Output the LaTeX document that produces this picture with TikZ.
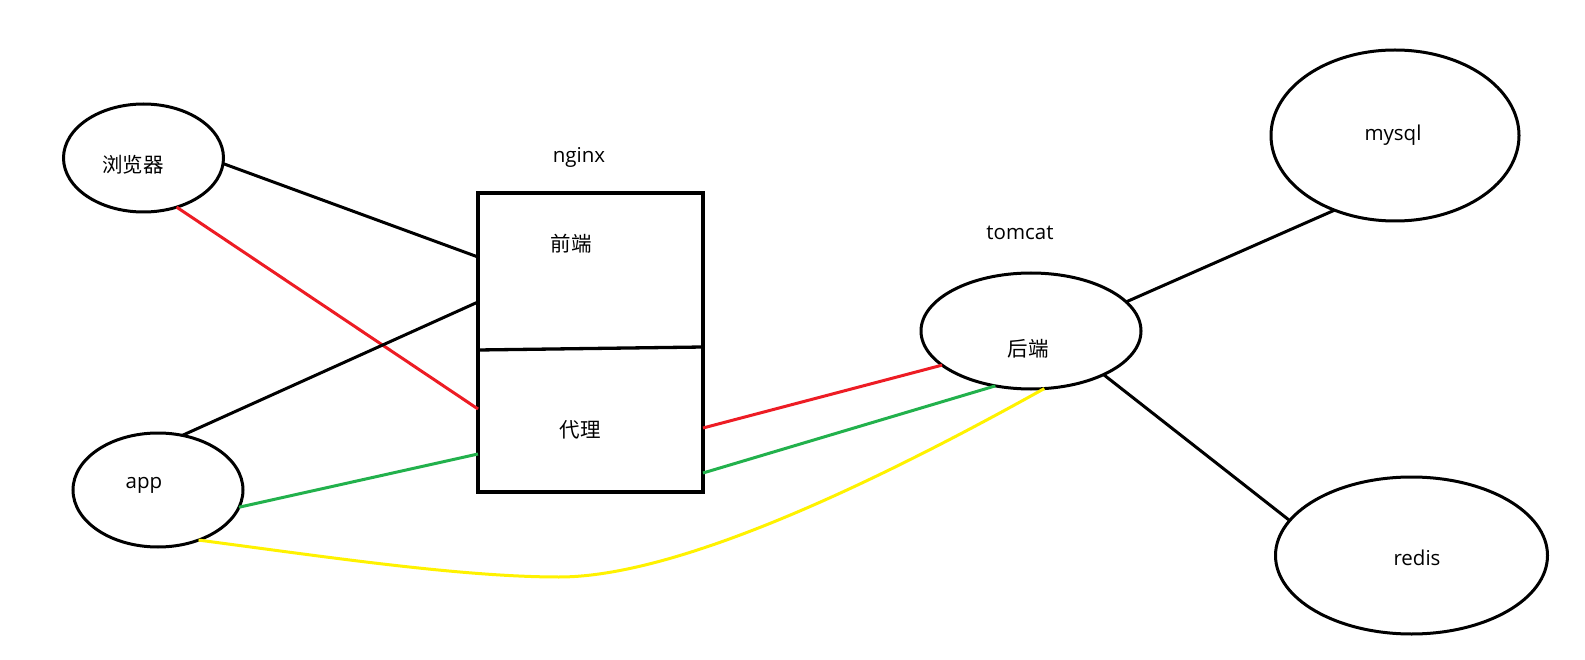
\documentclass[tikz,border=0pt]{standalone}
\usepackage{fontspec}
\setmainfont{Open Sans}
\newfontfamily\cjk{Noto Sans CJK SC}
\usepackage{tikz}
\usetikzlibrary{positioning,shapes.geometric,calc}
\definecolor{linkred}{RGB}{237,28,36}
\definecolor{linkgreen}{RGB}{34,177,76}
\definecolor{linkyellow}{RGB}{255,242,0}
\tikzset{
  blob/.style   = {ellipse, draw, line width=3pt, inner sep=0pt, outer sep=0pt},
  srvbox/.style = {rectangle, draw, line width=3.3pt, inner sep=0pt, outer sep=0pt, minimum width=225pt, minimum height=299pt},
  lbl/.style    = {inner sep=0pt, font=\fontsize{20.5}{24}\selectfont},
  wire/.style   = {line width=3pt},
}

\begin{document}
\begin{tikzpicture}[x=1pt,y=-1pt]
  \useasboundingbox (0,0) rectangle (1585,660);
  \node[blob, minimum width=160pt, minimum height=108pt] (browser) at (143.5,158) {};
  \node[blob, minimum width=170pt, minimum height=114pt] (app) at (158,490) {};
  \node[srvbox] (nginx) at (590.5,342.5) {};
  \node[blob, minimum width=220pt, minimum height=116pt] (tomcat) at (1031,331) {};
  \node[blob, minimum width=248pt, minimum height=171pt] (mysql) at (1395,135.5) {};
  \node[blob, minimum width=272pt, minimum height=157pt] (redis) at (1411.5,555.5) {};
  \node[lbl] (browsertxt) at (133,165) {\cjk 浏览器};
  \node[lbl] (apptxt) at (144,485) {app};
  \node[lbl] (nginxtxt) at (579,157) {nginx};
  \node[lbl] (fronttxt) at (571,244) {\cjk 前端};
  \node[lbl] (proxytxt) at (580,430) {\cjk 代理};
  \node[lbl] (tomcattxt) at (1020,233) {tomcat};
  \node[lbl] (backtxt) at (1028,349) {\cjk 后端};
  \node[lbl] (mysqltxt) at (1393,135) {mysql};
  \node[lbl] (redistxt) at (1417,558) {redis};
  \coordinate (dip) at (559,577);
  \draw[line width=3.3pt] ([yshift=-7.5pt]nginx.west) -- ([yshift=-4.5pt]nginx.east);
  \draw[wire] (browser.-4) -- ([yshift=85.5pt]nginx.west);
  \draw[wire, linkred] (browser.-56) -- ([yshift=-66.5pt]nginx.west);
  \draw[wire] (app.66) -- ([yshift=40.5pt]nginx.west);
  \draw[wire, linkgreen] (app.-12) -- ([yshift=-111.5pt]nginx.west);
  \draw[wire, linkred] ([yshift=-85.5pt]nginx.east) -- (tomcat.201);
  \draw[wire, linkgreen] ([yshift=-130.5pt]nginx.east) -- (tomcat.237);
  \draw[wire, linkyellow] (app.-51) .. controls (320,556) and (460,577) .. (dip)
    .. controls (680,577) and (880,480) .. (tomcat.-77);
  \draw[wire] (tomcat.17) -- (mysql.231);
  \draw[wire] (tomcat.-31) -- (redis.164);
\end{tikzpicture}
\end{document}
